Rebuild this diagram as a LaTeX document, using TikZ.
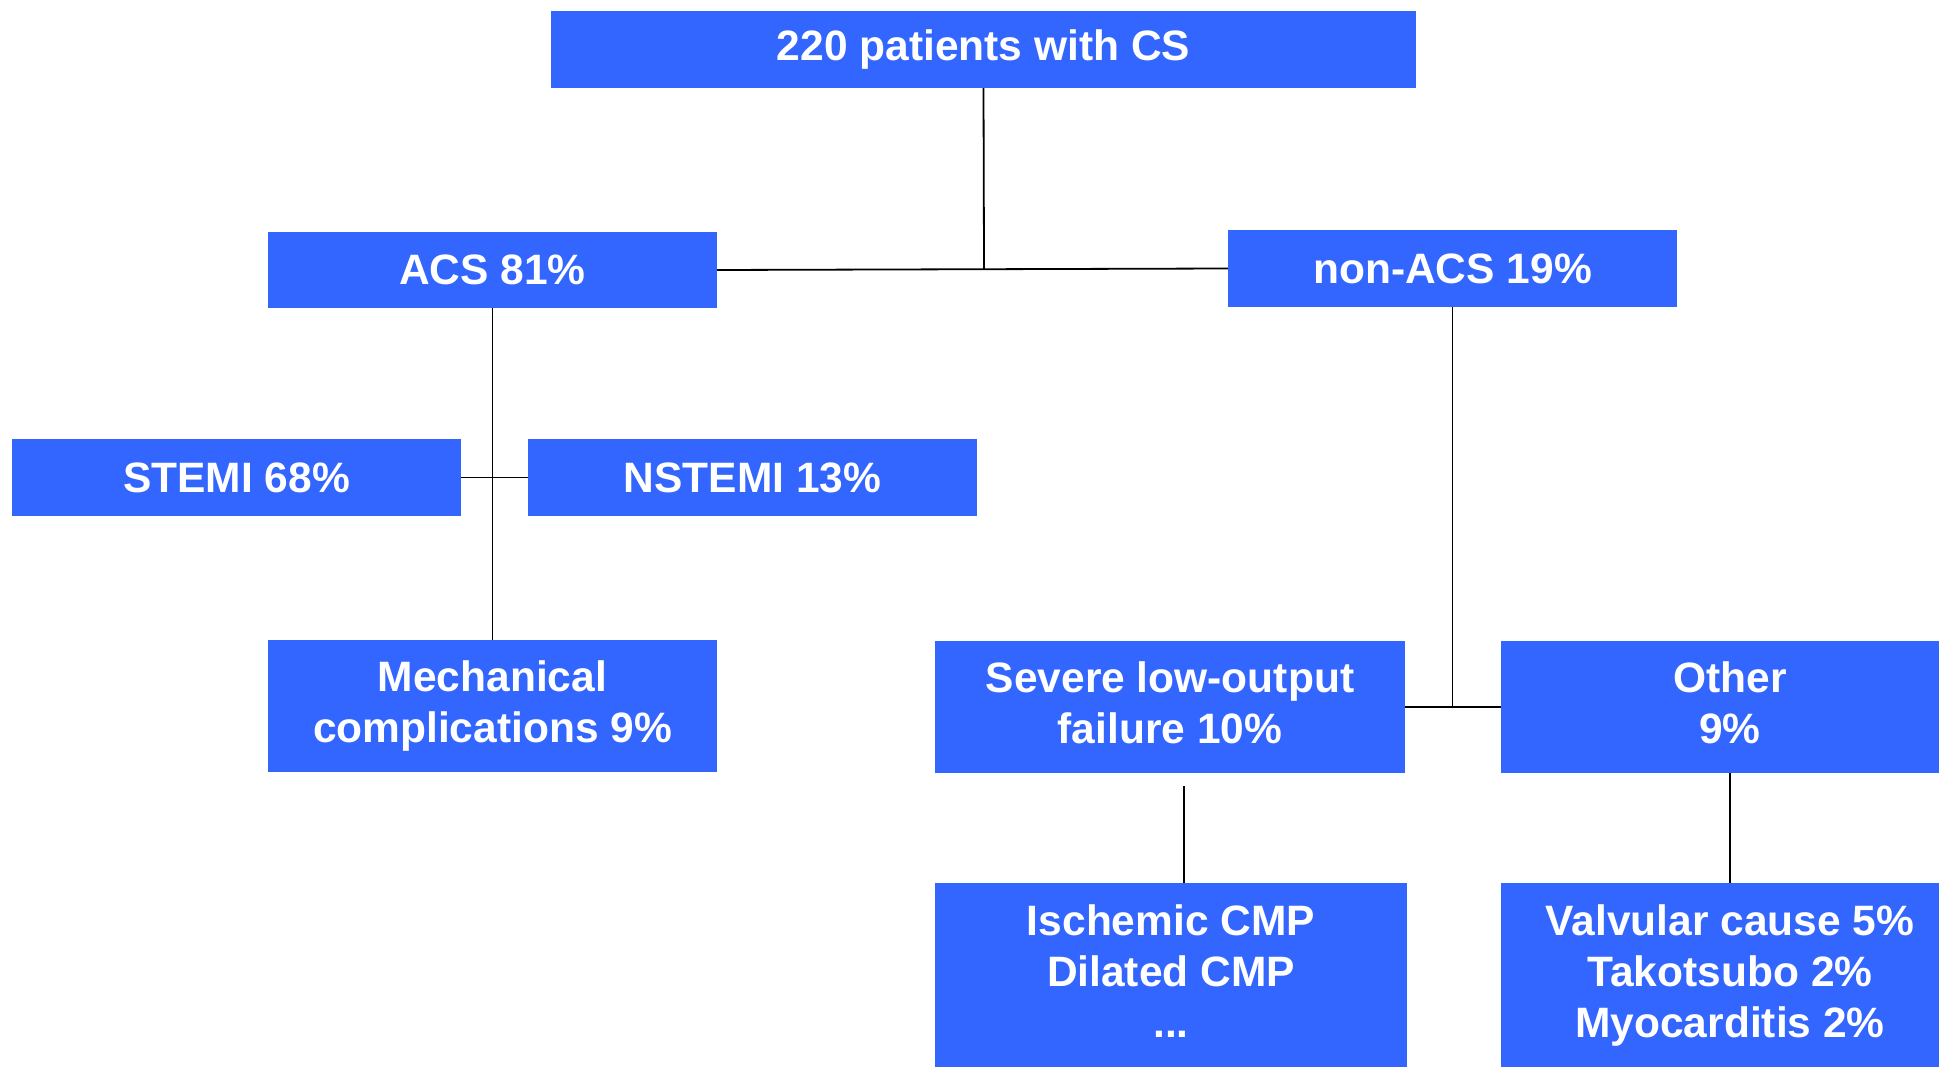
\documentclass[tikz,border=0pt]{standalone}
\usepackage{fontspec}
\setmainfont{Liberation Sans}
\usetikzlibrary{calc}
\definecolor{boxblue}{RGB}{51,102,255}
\tikzset{
  box/.style={fill=boxblue, text=white, inner sep=0pt, align=center,
    font=\bfseries\fontsize{42.5}{51}\selectfont},
  link/.style={draw=black, line width=1.8pt}
}
\begin{document}
\begin{tikzpicture}[x=1pt, y=-1pt]
\useasboundingbox (0,0) rectangle (1939,1067);

% boxes
\node[box, minimum width=865, minimum height=77] (top) at (983.5,49.5) {220 patients with CS};
\node[box, minimum width=449, minimum height=76] (acs) at (492.5,270) {ACS 81\%};
\node[box, minimum width=449, minimum height=77] (nonacs) at (1452.5,268.5) {non-ACS 19\%};
\node[box, minimum width=449, minimum height=77] (stemi) at (236.5,477.5) {STEMI 68\%};
\node[box, minimum width=449, minimum height=77] (nstemi) at (752.5,477.5) {NSTEMI 13\%};
\node[box, minimum width=449, minimum height=132] (mech) at (492.5,706) {Mechanical\\complications 9\%};
\node[box, minimum width=470, minimum height=132, text depth=9pt] (severe) at (1170,707) {Severe low-output\\failure 10\%};
\node[box, minimum width=458, minimum height=132, text depth=9pt] (other) at (1730,707) {Other\\9\%};
\node[box, minimum width=472, minimum height=176] (isch) at (1171,971) {Ischemic CMP\\Dilated CMP\\...};
\node[box, minimum width=458, minimum height=176, text depth=0pt] (valv) at (1730,971) {Valvular cause 5\%\\Takotsubo 2\%\\Myocarditis 2\%};
% lower boxes run on past the bottom edge
\fill[boxblue] (isch.south west) rectangle ($(isch.south east)+(0,30)$);
\fill[boxblue] (valv.south west) rectangle ($(valv.south east)+(0,30)$);

% connectors
\draw[link] (acs.east) -- (nonacs.west);
\draw[link] (top.south) -- ($(acs.east)!(top.south)!(nonacs.west)$);
\draw[link] (acs.south) -- (mech.north);
\draw[link] (stemi.east) -- (nstemi.west);
\draw[link] (severe.east) -- (other.west);
\draw[link] (nonacs.south) -- (nonacs.south |- severe.east);
\coordinate (sevfoot) at (1184,786);
\draw[link] (sevfoot) -- (sevfoot |- isch.north);
\draw[link] (other.south) -- (valv.north);
\end{tikzpicture}
\end{document}
